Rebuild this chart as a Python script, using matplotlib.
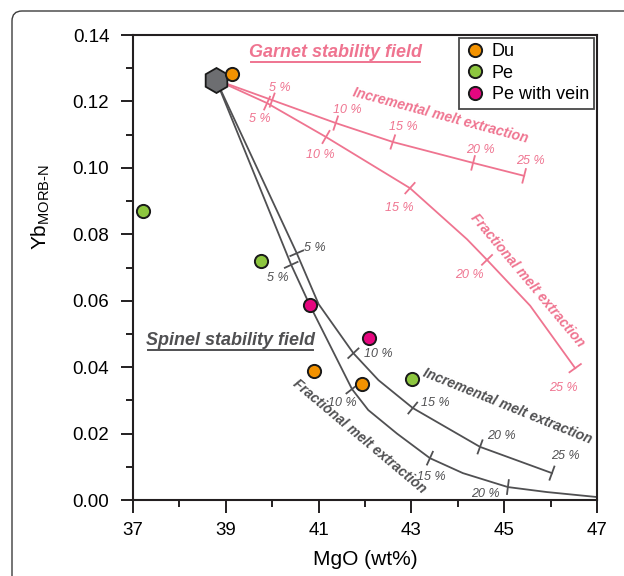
import matplotlib

matplotlib.use("Agg")
import matplotlib.pyplot as plt
import numpy as np
from matplotlib.patches import FancyBboxPatch
from matplotlib.lines import Line2D
from matplotlib.ticker import MultipleLocator

plt.rcParams["font.family"] = ["Liberation Sans", "DejaVu Sans"]
plt.rcParams["mathtext.fontset"] = "custom"
plt.rcParams["mathtext.rm"] = "Liberation Sans"

# sample compositions (MgO wt%, Yb MORB-normalised)
du_mgo = [39.13, 40.90, 41.94]
du_yb = [0.1283, 0.0388, 0.0349]
pe_mgo = [37.22, 39.76, 43.01]
pe_yb = [0.0870, 0.0720, 0.0364]
vein_mgo = [40.81, 42.09]
vein_yb = [0.0587, 0.0488]

# starting source (hexagon)
src_mgo = [38.79]
src_yb = [0.1265]

# melting curves
g_inc_mgo = [38.79, 40.00, 41.37, 42.60, 44.33, 45.43]
g_inc_yb = [0.1265, 0.1204, 0.1135, 0.1078, 0.1015, 0.0976]
g_frac_mgo = [38.79, 39.89, 41.16, 42.97, 44.20, 44.63, 45.56, 46.53]
g_frac_yb = [0.1265, 0.1195, 0.1093, 0.0939, 0.0785, 0.0723, 0.0585, 0.0397]
s_inc_mgo = [38.79, 40.53, 41.00, 41.75, 42.29, 43.03, 44.48, 46.03]
s_inc_yb = [0.1265, 0.0743, 0.0590, 0.0442, 0.0361, 0.0277, 0.0160, 0.0081]
s_frac_mgo = [38.79, 40.41, 40.81, 41.72, 42.07, 42.69, 43.40, 44.11, 45.08, 45.92, 47.00]
s_frac_yb = [0.1265, 0.0708, 0.0587, 0.0334, 0.0271, 0.0200, 0.0126, 0.0081, 0.0039, 0.0024, 0.0009]

# melt-fraction tick marks on each curve
g_inc_tick_mgo = [40.00, 41.37, 42.60, 44.33, 45.43]
g_inc_tick_yb = [0.1204, 0.1135, 0.1078, 0.1015, 0.0976]
g_frac_tick_mgo = [39.89, 41.16, 42.97, 44.63, 46.53]
g_frac_tick_yb = [0.1195, 0.1093, 0.0939, 0.0723, 0.0397]
s_inc_tick_mgo = [40.53, 41.75, 43.03, 44.48, 46.03]
s_inc_tick_yb = [0.0743, 0.0442, 0.0277, 0.0160, 0.0081]
s_frac_tick_mgo = [40.41, 41.72, 43.40, 45.08]
s_frac_tick_yb = [0.0708, 0.0334, 0.0126, 0.0039]

pct_labels = ["5 %", "10 %", "15 %", "20 %", "25 %"]
g_inc_lab_mgo = [40.17, 41.61, 42.82, 44.48, 45.56]
g_inc_lab_yb = [0.1241, 0.1174, 0.1123, 0.1054, 0.1021]
g_frac_lab_mgo = [39.74, 41.03, 42.75, 44.26, 46.27]
g_frac_lab_yb = [0.1147, 0.1039, 0.0879, 0.0678, 0.0337]
s_inc_lab_mgo = [40.92, 42.28, 43.51, 44.95, 46.31]
s_inc_lab_yb = [0.0759, 0.0440, 0.0292, 0.0193, 0.0133]
s_frac_lab_mgo = [40.12, 41.52, 43.44, 44.59]
s_frac_lab_yb = [0.0669, 0.0292, 0.0069, 0.0018]

PINK = "#ef7490"
GREY = "#505052"
AXC = "#231f20"
C_DU = "#f39200"
C_PE = "#8dc63f"
C_VEIN = "#e5077f"

fig = plt.figure(figsize=(6.24, 5.76), dpi=100)
ax = fig.add_axes([0.2131, 0.1319, 0.7436, 0.8073])

# rounded frame around the whole panel
frame = FancyBboxPatch((0.12, -1.0), 7.0, 6.65, boxstyle="round,pad=0,rounding_size=0.1",
                       transform=fig.dpi_scale_trans, facecolor="none",
                       edgecolor="#3c3c3c", linewidth=1.0, clip_on=False)
fig.patches.append(frame)

ax.set_xlim(37, 47)
ax.set_ylim(0, 0.14)
ax.xaxis.set_major_locator(MultipleLocator(2, offset=1))
ax.xaxis.set_minor_locator(MultipleLocator(1))
ax.yaxis.set_major_locator(MultipleLocator(0.02))
ax.yaxis.set_minor_locator(MultipleLocator(0.01))
ax.xaxis.set_major_formatter(plt.FormatStrFormatter("%.0f"))
ax.yaxis.set_major_formatter(plt.FormatStrFormatter("%.2f"))
for sp in ax.spines.values():
    sp.set_color(AXC)
    sp.set_linewidth(1.5)
ax.tick_params(which="major", direction="out", length=9, width=1.4, color=AXC,
               labelsize=13.5, pad=7)
ax.tick_params(which="minor", direction="out", length=5, width=1.4, color=AXC)
ax.tick_params(axis="y", pad=8)

ax.set_xlabel("MgO (wt%)", fontsize=15, labelpad=8)
fig.text(0.065, 0.64, "Yb$_{\\mathregular{MORB\u2010N}}$", rotation=90, fontsize=15,
         ha="center", va="center")

curves = [
    (g_inc_mgo, g_inc_yb, g_inc_tick_mgo, g_inc_tick_yb, g_inc_lab_mgo, g_inc_lab_yb, PINK),
    (g_frac_mgo, g_frac_yb, g_frac_tick_mgo, g_frac_tick_yb, g_frac_lab_mgo, g_frac_lab_yb, PINK),
    (s_inc_mgo, s_inc_yb, s_inc_tick_mgo, s_inc_tick_yb, s_inc_lab_mgo, s_inc_lab_yb, GREY),
    (s_frac_mgo, s_frac_yb, s_frac_tick_mgo, s_frac_tick_yb, s_frac_lab_mgo, s_frac_lab_yb, GREY),
]

to_disp = ax.transData
to_data = ax.transData.inverted()
half = 7.0  # half length of the melt-fraction tick, pixels

for cx, cy, tx, ty, lx, ly, col in curves:
    ax.plot(cx, cy, color=col, linewidth=1.3, zorder=2, solid_joinstyle="round")
    pts = to_disp.transform(np.column_stack([cx, cy]))
    for x0, y0 in zip(tx, ty):
        p = to_disp.transform((x0, y0))
        # direction of the nearest curve segment
        mids = (pts[1:] + pts[:-1]) / 2
        i = np.argmin(np.hypot(*(mids - p).T))
        d = pts[i + 1] - pts[i]
        d /= np.hypot(*d)
        n = np.array([-d[1], d[0]])
        seg = to_data.transform([p - n * half, p + n * half])
        ax.plot(seg[:, 0], seg[:, 1], color=col, linewidth=1.3, zorder=2)
    for x0, y0, s in zip(lx, ly, pct_labels):
        ax.text(x0, y0, s, color=col, fontsize=9, style="italic",
                ha="center", va="center", zorder=3)

lab_kw = dict(fontsize=10, style="italic", weight="bold", ha="center", va="center",
              rotation_mode="anchor")
ax.text(43.62, 0.1159, "Incremental melt extraction", color=PINK, rotation=-15, **lab_kw)
ax.text(45.51, 0.0662, "Fractional melt extraction", color=PINK, rotation=-50, **lab_kw)
ax.text(45.06, 0.0283, "Incremental melt extraction", color=GREY, rotation=-22, **lab_kw)
ax.text(41.89, 0.0193, "Fractional melt extraction", color=GREY, rotation=-40, **lab_kw)

garnet = ax.text(41.37, 0.1346, "Garnet stability field", color=PINK, fontsize=13,
                 style="italic", weight="bold", ha="center", va="center")
spinel = ax.text(39.1, 0.0479, "Spinel stability field", color=GREY, fontsize=13,
                 style="italic", weight="bold", ha="center", va="center")

ax.plot(src_mgo, src_yb, marker="h", markersize=18, color="#6d6e71",
        markeredgecolor="#1a1a1a", markeredgewidth=1.3, linestyle="none", zorder=5)

mk = dict(marker="o", markersize=9.5, markeredgecolor="#1a1a1a", markeredgewidth=1.4,
          linestyle="none", zorder=6)
ax.plot(du_mgo, du_yb, color=C_DU, label="Du", **mk)
ax.plot(pe_mgo, pe_yb, color=C_PE, label="Pe", **mk)
ax.plot(vein_mgo, vein_yb, color=C_VEIN, label="Pe with vein", **mk)

leg = ax.legend(loc="upper right", fontsize=13, frameon=True, fancybox=False,
                borderaxespad=0.15, handletextpad=0.3, handlelength=1.2,
                labelspacing=0.25, borderpad=0.3)
leg.get_frame().set_edgecolor("#1a1a1a")
leg.get_frame().set_linewidth(1.3)

# underline the two field labels
fig.canvas.draw()
rend = fig.canvas.get_renderer()
for t, col in ((garnet, PINK), (spinel, GREY)):
    bb = t.get_window_extent(rend)
    y = bb.y0 - 1
    fig.add_artist(Line2D([bb.x0 + 2, bb.x1 - 2], [y, y], transform=None,
                          color=col, linewidth=1.4))

fig.savefig("out.png", dpi=100)
